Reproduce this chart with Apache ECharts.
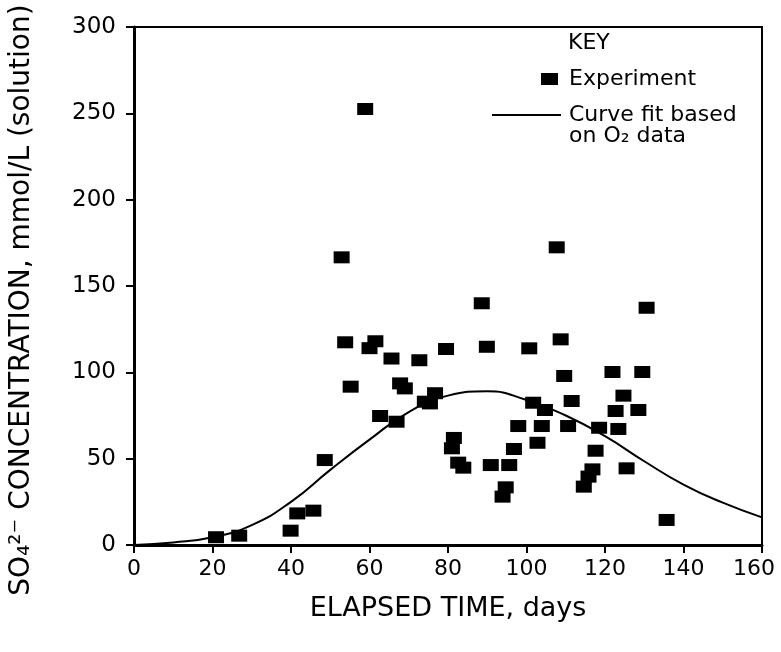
<!DOCTYPE html>
<html>
<head>
<meta charset="utf-8">
<script src="https://cdn.jsdelivr.net/npm/echarts@6/dist/echarts.min.js"></script>
<style>
  html, body { margin: 0; padding: 0; background: #fff; }
  #chart { width: 781px; height: 652px; }
</style>
</head>
<body>
<div id="chart"></div>
<script>
const expDays = [20.9, 26.8, 39.9, 41.6, 45.7, 48.6, 52.9, 53.8, 55.2, 58.9, 60, 61.5, 62.7, 65.6, 66.9, 67.8, 69, 72.7, 74.1, 75.4, 76.7,
  79.5, 81, 81.5, 82.6, 83.9, 88.6, 89.9, 90.9, 93.9, 94.7, 95.6, 96.8, 97.9, 100.7, 101.7, 102.8, 103.9, 104.7,
  107.7, 108.7, 109.6, 110.6, 111.5, 114.6, 115.8, 116.8, 117.6, 118.5, 121.9, 122.7, 123.4, 124.7, 125.5, 128.5, 129.5, 130.6, 135.7];
const expConc = [4.5, 5.4, 8.3, 18.3, 19.9, 49.2, 166.6, 117.4, 91.7, 252.5, 114, 118, 74.7, 108, 71.4, 93.6, 90.7, 107, 83, 82, 87.9,
  113.5, 56, 62, 47.7, 44.8, 140, 114.8, 46.3, 28, 33.4, 46.3, 55.6, 68.9, 113.9, 82.4, 59.2, 68.9, 78.2,
  172.4, 119.1, 97.9, 68.9, 83.4, 33.8, 39.6, 43.8, 54.6, 67.9, 100.2, 77.6, 67.2, 86.5, 44.4, 78.2, 100.2, 137.4, 14.5];

// curve fit based on O2 data
const fitDays = [0, 10, 20, 30, 40, 50, 60, 70, 80, 90, 100, 110, 120, 130, 140, 150, 160];
const fitConc = [0, 1.5, 4.5, 11.5, 25, 43.5, 61, 77, 86.5, 89, 84, 75, 63, 48.5, 35, 24.5, 16];

const xTicks = [0, 20, 40, 60, 80, 100, 120, 140, 160];
const yTicks = [0, 50, 100, 150, 200, 250, 300];

const FONT = "'DejaVu Sans', sans-serif";
const expName = "Experiment";
const fitName = "Curve fit based on O\u2082 data";

const chart = echarts.init(document.getElementById("chart"));

const keyText = { fontFamily: FONT, fontSize: 22, fontWeight: "normal", color: "#000" };
const tickText = { fontFamily: FONT, fontSize: 22, color: "#000" };

const options = {
  animation: false,
  backgroundColor: "#fff",
  textStyle: { fontFamily: FONT, color: "#000" },
  title: [
    { text: "KEY", left: 568, top: 32, padding: 0, textStyle: keyText },
    { text: "on O\u2082 data", left: 569, top: 125, padding: 0, textStyle: keyText },
  ],
  legend: [
    {
      data: [expName],
      left: 541,
      top: 68,
      padding: 0,
      itemWidth: 17,
      itemHeight: 12,
      icon: "rect",
      formatter: "{p|}{name}",
      textStyle: { ...keyText, rich: { p: { width: 6 } } },
    },
    {
      data: [fitName],
      left: 492,
      top: 104,
      padding: 0,
      itemWidth: 69,
      itemHeight: 2,
      icon: "path://M0,0H69V2H0Z",
      formatter: () => "{p|}Curve fit based",
      textStyle: { ...keyText, rich: { p: { width: 3 } } },
    },
  ],
  grid: {
    left: 134,
    right: 19,
    top: 27,
    bottom: 107,
    outerBoundsMode: "none",
    show: true,
    borderColor: "#000",
    borderWidth: 2,
  },
  xAxis: {
    type: "value",
    min: 0,
    max: 160,
    interval: 20,
    name: "ELAPSED TIME, days",
    nameLocation: "middle",
    nameGap: 50,
    nameTextStyle: { fontFamily: FONT, fontSize: 27, color: "#000" },
    axisLine: { lineStyle: { color: "#000", width: 3 } },
    axisTick: { length: 8, lineStyle: { color: "#000", width: 2 } },
    axisLabel: {
      margin: 13,
      ...tickText,
      customValues: xTicks,
      // last label sits a little left of its tick, as in the figure
      formatter: (v) => (v === 160 ? "{t|160}{s|}" : String(v)),
      rich: { t: { ...tickText }, s: { width: 16 } },
    },
    splitLine: { show: false },
  },
  yAxis: {
    type: "value",
    min: 0,
    max: 300,
    interval: 50,
    name: "SO\u2084\u00b2\u207b CONCENTRATION, mmol/L (solution)",
    nameLocation: "middle",
    nameRotate: 90,
    nameGap: 98,
    nameTextStyle: { fontFamily: FONT, fontSize: 28, color: "#000", padding: [0, 28, 0, 0] },
    axisLine: { lineStyle: { color: "#000", width: 3 } },
    axisTick: { length: 8, lineStyle: { color: "#000", width: 2 } },
    axisLabel: {
      margin: 18,
      ...tickText,
      fontSize: 23,
      customValues: yTicks,
    },
    splitLine: { show: false },
  },
  series: [
    {
      name: expName,
      type: "scatter",
      symbol: "rect",
      symbolSize: [16, 12],
      itemStyle: { color: "#000", opacity: 1 },
      data: expDays.map((d, i) => [d, expConc[i]]),
      z: 3,
    },
    {
      name: fitName,
      type: "line",
      smooth: true,
      symbol: "none",
      lineStyle: { color: "#000", width: 2 },
      itemStyle: { color: "#000" },
      data: fitDays.map((d, i) => [d, fitConc[i]]),
      z: 2,
    },
  ],
};

chart.setOption(options);
</script>
</body>
</html>
